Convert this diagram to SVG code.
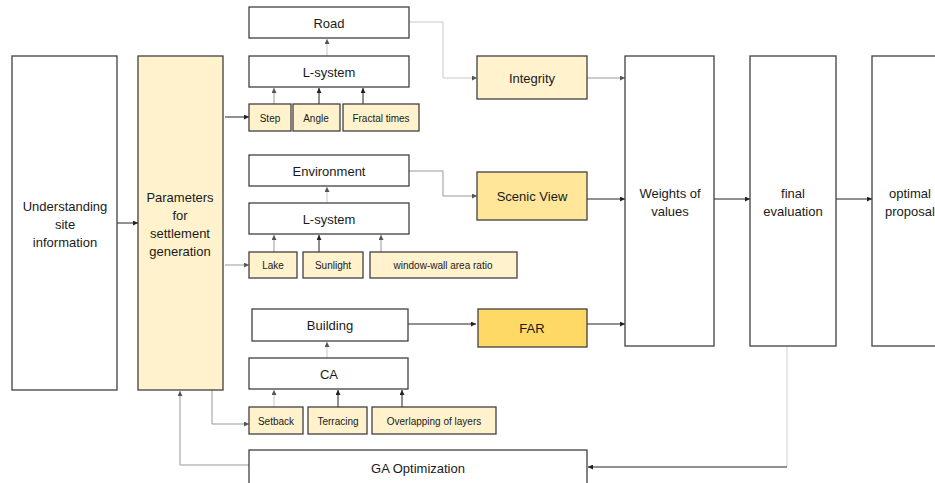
<svg xmlns="http://www.w3.org/2000/svg" width="935" height="483" viewBox="0 0 935 483">
<style>
.box{fill:#fff;stroke:#404040;stroke-width:1.3}
.y1{fill:#fff2cc;stroke:#404040;stroke-width:1.3}
.y2{fill:#ffe699;stroke:#404040;stroke-width:1.3}
.y3{fill:#ffd966;stroke:#404040;stroke-width:1.3}
text{font-family:"Liberation Sans",Arial,sans-serif;fill:#1a1a1a;text-anchor:middle;dominant-baseline:central}
.t{font-size:13px}
.s{font-size:10px}
.c{fill:none;stroke-width:1}
.k{stroke:#222;marker-end:url(#ak)}
.g{stroke:#999;marker-end:url(#ag)}
.lg{stroke:#c8c8c8;marker-end:url(#ag)}
</style>
<defs>
<marker id="ak" viewBox="0 0 6 6" refX="6" refY="3" markerWidth="5" markerHeight="5" orient="auto"><path d="M0,0 L6,3 L0,6 z" fill="#222"/></marker>
<marker id="ag" viewBox="0 0 6 6" refX="6" refY="3" markerWidth="5" markerHeight="5" orient="auto"><path d="M0,0 L6,3 L0,6 z" fill="#555"/></marker>
</defs>
<rect width="935" height="483" fill="#fff"/>
<g id="connectors">
<path class="c k" d="M117,223 H138"/>
<path class="c k" d="M225,117 H249"/>
<path class="c g" d="M225,265 H249"/>
<path class="c g" d="M212,390 V424 H249"/>
<path class="c g" d="M249,465 H180 V391"/>
<path class="c g" d="M274,104 V88"/>
<path class="c k" d="M319,104 V88"/>
<path class="c k" d="M363,104 V88"/>
<path class="c lg" d="M327,56 V39"/>
<path class="c lg" d="M409,22 H443 V78 H477"/>
<path class="c g" d="M587,78 H625"/>
<path class="c g" d="M274,252 V235"/>
<path class="c k" d="M319,252 V235"/>
<path class="c g" d="M381,252 V235"/>
<path class="c lg" d="M327,203 V187"/>
<path class="c g" d="M409,171 H443 V196 H477"/>
<path class="c k" d="M587,199 H625"/>
<path class="c lg" d="M274,407 V390"/>
<path class="c k" d="M338,407 V390"/>
<path class="c k" d="M402,407 V390"/>
<path class="c lg" d="M327,358 V342"/>
<path class="c k" d="M408,324 H476"/>
<path class="c k" d="M587,324 H625"/>
<path class="c k" d="M714,199 H750"/>
<path class="c k" d="M836,199 H872"/>
<path class="c" stroke="#d0d0d0" stroke-width="1.5" d="M787,347 V467"/>
<path class="c k" d="M787,467 H588"/>
</g>
<g id="understanding"><rect class="box" x="12" y="56" width="105" height="334"/><text class="t" x="65" y="206">Understanding</text><text class="t" x="65" y="224">site</text><text class="t" x="65" y="242">information</text></g>
<g id="parameters"><rect class="y1" x="138" y="56" width="85" height="334"/><text class="t" x="180" y="197">Parameters</text><text class="t" x="180" y="215">for</text><text class="t" x="180" y="233">settlement</text><text class="t" x="180" y="251">generation</text></g>
<g id="road"><rect class="box" x="249" y="7" width="160" height="31"/><text class="t" x="329" y="23">Road</text></g>
<g id="lsystem1"><rect class="box" x="249" y="56" width="160" height="31"/><text class="t" x="329" y="72">L-system</text></g>
<g id="step"><rect class="y1" x="249" y="104" width="42" height="27"/><text class="s" x="270" y="118">Step</text></g>
<g id="angle"><rect class="y1" x="293" y="104" width="47" height="27"/><text class="s" x="316" y="118">Angle</text></g>
<g id="fractal"><rect class="y1" x="343" y="104" width="76" height="27"/><text class="s" x="381" y="118">Fractal times</text></g>
<g id="integrity"><rect class="y1" x="477" y="56" width="110" height="43"/><text class="t" x="532" y="78">Integrity</text></g>
<g id="environment"><rect class="box" x="249" y="155" width="160" height="31"/><text class="t" x="329" y="171">Environment</text></g>
<g id="lsystem2"><rect class="box" x="249" y="203" width="160" height="31"/><text class="t" x="329" y="219">L-system</text></g>
<g id="lake"><rect class="y1" x="249" y="252" width="48" height="26"/><text class="s" x="273" y="265">Lake</text></g>
<g id="sunlight"><rect class="y1" x="303" y="252" width="60" height="26"/><text class="s" x="333" y="265">Sunlight</text></g>
<g id="wwr"><rect class="y1" x="370" y="252" width="147" height="26"/><text class="s" x="443" y="265">window-wall area ratio</text></g>
<g id="scenic"><rect class="y2" x="477" y="172" width="110" height="48"/><text class="t" x="532" y="196">Scenic View</text></g>
<g id="building"><rect class="box" x="252" y="309" width="156" height="32"/><text class="t" x="330" y="325">Building</text></g>
<g id="ca"><rect class="box" x="249" y="358" width="159" height="31"/><text class="t" x="329" y="374">CA</text></g>
<g id="setback"><rect class="y1" x="249" y="407" width="54" height="27"/><text class="s" x="276" y="421">Setback</text></g>
<g id="terracing"><rect class="y1" x="308" y="407" width="59" height="27"/><text class="s" x="338" y="421">Terracing</text></g>
<g id="overlapping"><rect class="y1" x="372" y="407" width="124" height="27"/><text class="s" x="434" y="421">Overlapping of layers</text></g>
<g id="far"><rect class="y3" x="478" y="309" width="109" height="38"/><text class="t" x="532" y="328">FAR</text></g>
<g id="weights"><rect class="box" x="625" y="56" width="89" height="290"/><text class="t" x="670" y="193">Weights of</text><text class="t" x="670" y="211">values</text></g>
<g id="final"><rect class="box" x="750" y="56" width="86" height="290"/><text class="t" x="793" y="193">final</text><text class="t" x="793" y="211">evaluation</text></g>
<g id="optimal"><rect class="box" x="872" y="56" width="80" height="290"/><text class="t" x="910" y="193">optimal</text><text class="t" x="910" y="211">proposal</text></g>
<g id="ga"><rect class="box" x="249" y="450" width="338" height="45"/><text class="t" x="418" y="468">GA Optimization</text></g>
</svg>
